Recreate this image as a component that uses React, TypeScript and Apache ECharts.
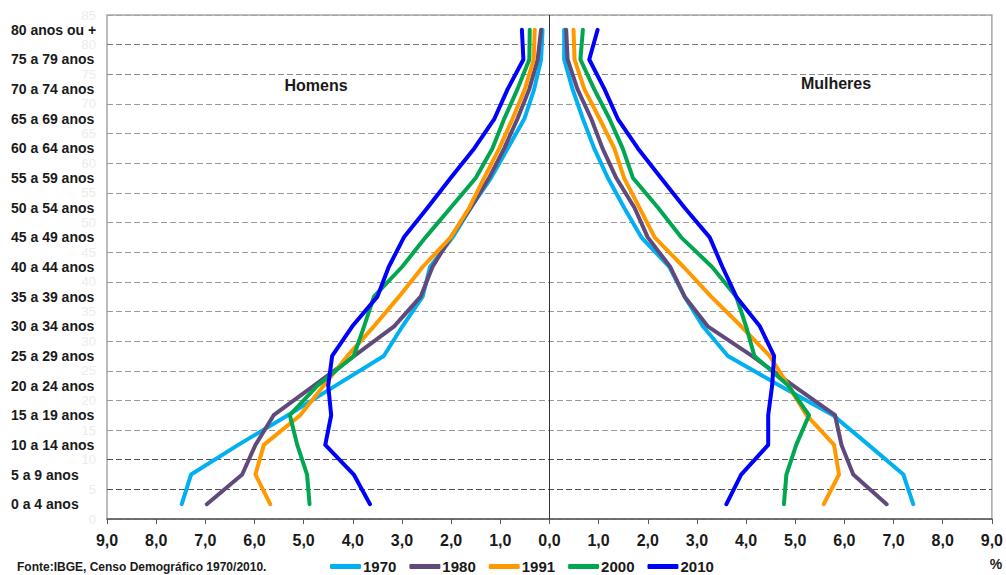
import React, { useEffect, useRef } from "react";
import * as echarts from "echarts";

const ageGroups = [
  "0 a 4 anos", "5 a 9 anos", "10 a 14 anos", "15 a 19 anos", "20 a 24 anos",
  "25 a 29 anos", "30 a 34 anos", "35 a 39 anos", "40 a 44 anos", "45 a 49 anos",
  "50 a 54 anos", "55 a 59 anos", "60 a 64 anos", "65 a 69 anos", "70 a 74 anos",
  "75 a 79 anos", "80 anos ou +",
];

const years = ["1970", "1980", "1991", "2000", "2010"];
const colors = ["#00b0f0", "#604a7b", "#ff9900", "#00a650", "#0000ff"];

// Homens (% of population), from youngest to oldest group
const men1970 = [7.48, 7.29, 6.33, 5.32, 4.35, 3.37, 2.99, 2.58, 2.43, 1.97, 1.60, 1.19, 0.85, 0.51, 0.31, 0.17, 0.14];
const men1980 = [6.97, 6.25, 5.98, 5.61, 4.79, 3.97, 3.16, 2.62, 2.38, 2.01, 1.60, 1.23, 0.92, 0.65, 0.41, 0.24, 0.17];
const men1991 = [5.68, 5.98, 5.81, 5.07, 4.59, 4.11, 3.57, 3.06, 2.58, 2.01, 1.63, 1.33, 1.02, 0.75, 0.50, 0.32, 0.30];
const men2000 = [4.88, 4.93, 5.13, 5.28, 4.72, 3.98, 3.77, 3.57, 3.00, 2.52, 2.01, 1.50, 1.16, 0.92, 0.65, 0.41, 0.40];
const men2010 = [3.65, 3.98, 4.56, 4.44, 4.50, 4.42, 4.01, 3.50, 3.27, 2.96, 2.48, 2.01, 1.53, 1.12, 0.85, 0.53, 0.56];

// Mulheres (% of population)
const women1970 = [7.40, 7.20, 6.49, 5.77, 4.68, 3.63, 3.12, 2.75, 2.44, 1.87, 1.52, 1.19, 0.91, 0.68, 0.47, 0.30, 0.30];
const women1980 = [6.86, 6.18, 5.94, 5.81, 4.96, 4.12, 3.22, 2.75, 2.46, 2.00, 1.73, 1.36, 1.08, 0.85, 0.57, 0.37, 0.34];
const women1991 = [5.58, 5.89, 5.79, 5.23, 4.86, 4.48, 3.90, 3.29, 2.73, 2.14, 1.83, 1.52, 1.32, 1.02, 0.71, 0.51, 0.49];
const women2000 = [4.77, 4.82, 5.02, 5.28, 4.86, 4.17, 4.00, 3.80, 3.31, 2.68, 2.21, 1.70, 1.49, 1.22, 0.91, 0.63, 0.68];
const women2010 = [3.60, 3.90, 4.45, 4.45, 4.53, 4.57, 4.28, 3.80, 3.52, 3.26, 2.75, 2.27, 1.80, 1.39, 1.12, 0.81, 0.98];

const menSeries = [men1970, men1980, men1991, men2000, men2010];
const womenSeries = [women1970, women1980, women1991, women2000, women2010];

const FONT = "'Liberation Sans', Arial, sans-serif";

// colours of the dashed boundary lines, from bottom (0) to top (85)
const gridLineColors = [
  "#9a9a9a", "#505050", "#505050", "#9a9a9a", "#9a9a9a", "#9a9a9a",
  "#9a9a9a", "#9a9a9a", "#9a9a9a", "#9a9a9a", "#9a9a9a", "#9a9a9a",
  "#9a9a9a", "#9a9a9a", "#9a9a9a", "#8a8a8a", "#7a7a7a", "#a6a6a6",
];

export default function App() {
  const ref = useRef<HTMLDivElement>(null);

  useEffect(() => {
    document.body.style.margin = "0";
    const chart = echarts.init(ref.current as HTMLDivElement, null, { renderer: "svg" });

    const series: any[] = [];
    years.forEach((y, i) => {
      series.push({
        name: y,
        type: "line",
        xAxisIndex: 0,
        yAxisIndex: 1,
        symbol: "none",
        lineStyle: { color: colors[i], width: 4, cap: "round", join: "round" },
        itemStyle: { color: colors[i] },
        data: menSeries[i].map((v, k) => [-v, ageGroups[k]]),
        markLine: i === 0
          ? {
              silent: true,
              symbol: "none",
              label: { show: false },
              lineStyle: { color: "#333333", width: 1, type: "solid" },
              data: [{ xAxis: 0 }],
            }
          : undefined,
      });
    });
    years.forEach((y, i) => {
      series.push({
        name: y,
        type: "line",
        xAxisIndex: 0,
        yAxisIndex: 1,
        symbol: "none",
        lineStyle: { color: colors[i], width: 4, cap: "round", join: "round" },
        itemStyle: { color: colors[i] },
        data: womenSeries[i].map((v, k) => [v, ageGroups[k]]),
      });
    });

    const option: any = {
      animation: false,
      backgroundColor: "#ffffff",
      textStyle: { fontFamily: FONT },
      grid: {
        left: 107,
        right: 14,
        top: 15,
        bottom: 56,
        show: true,
        borderColor: "#a6a6a6",
        borderWidth: 1.5,
      },
      xAxis: {
        type: "value",
        min: -9,
        max: 9,
        interval: 1,
        axisLine: { show: true, onZero: false, lineStyle: { color: "#595959", width: 1.5 } },
        axisTick: { show: true, length: 5, lineStyle: { color: "#595959", width: 1 } },
        splitLine: { show: false },
        axisLabel: {
          fontSize: 16,
          fontWeight: "bold",
          color: "#1a1a1a",
          margin: 13,
          fontFamily: FONT,
          formatter: (v: number) => Math.abs(v).toFixed(1).replace(".", ","),
        },
      },
      yAxis: [
        {
          type: "value",
          min: 0,
          max: 85,
          interval: 5,
          position: "left",
          axisLine: { show: false },
          axisTick: { show: false },
          splitLine: { show: false },
          axisLabel: { color: "#ececec", fontSize: 13, margin: 11, fontFamily: FONT },
        },
        {
          type: "category",
          data: ageGroups,
          boundaryGap: true,
          position: "left",
          axisLine: { show: false },
          axisTick: { show: false },
          splitLine: {
            show: true,
            interval: 0,
            lineStyle: { color: gridLineColors, width: 1, type: [6, 3] },
          },
          axisLabel: {
            interval: 0,
            align: "left",
            margin: 96,
            fontSize: 14,
            fontWeight: "bold",
            color: "#1a1a1a",
            fontFamily: FONT,
          },
        },
      ],
      legend: {
        data: years,
        left: 330,
        top: 559,
        padding: 0,
        itemWidth: 31,
        itemHeight: 5,
        itemGap: 13,
        icon: "roundRect",
        textStyle: { fontSize: 15, fontWeight: "bold", color: "#1a1a1a", fontFamily: FONT, padding: [0, 0, 0, -3] },
      },
      graphic: [
        {
          type: "text",
          x: 316,
          y: 85,
          style: {
            text: "Homens",
            fontSize: 16,
            fontWeight: "bold",
            fontFamily: FONT,
            fill: "#1a1a1a",
            textAlign: "center",
            textVerticalAlign: "middle",
          },
        },
        {
          type: "text",
          x: 836,
          y: 83,
          style: {
            text: "Mulheres",
            fontSize: 16,
            fontWeight: "bold",
            fontFamily: FONT,
            fill: "#1a1a1a",
            textAlign: "center",
            textVerticalAlign: "middle",
          },
        },
        {
          type: "text",
          x: 17,
          y: 561,
          style: {
            text: "Fonte:IBGE, Censo Demográfico 1970/2010.",
            fontSize: 12,
            fontWeight: "bold",
            fontFamily: FONT,
            fill: "#1a1a1a",
            textAlign: "left",
            textVerticalAlign: "top",
          },
        },
        {
          type: "text",
          x: 996,
          y: 564,
          style: {
            text: "%",
            fontSize: 14,
            fontWeight: "bold",
            fontFamily: FONT,
            fill: "#1a1a1a",
            textAlign: "center",
            textVerticalAlign: "middle",
          },
        },
      ],
      series,
    };

    chart.setOption(option);
    return () => chart.dispose();
  }, []);

  return (
    <div
      ref={ref}
      style={{ position: "fixed", left: 0, top: 0, width: 1006, height: 575 }}
    />
  );
}
